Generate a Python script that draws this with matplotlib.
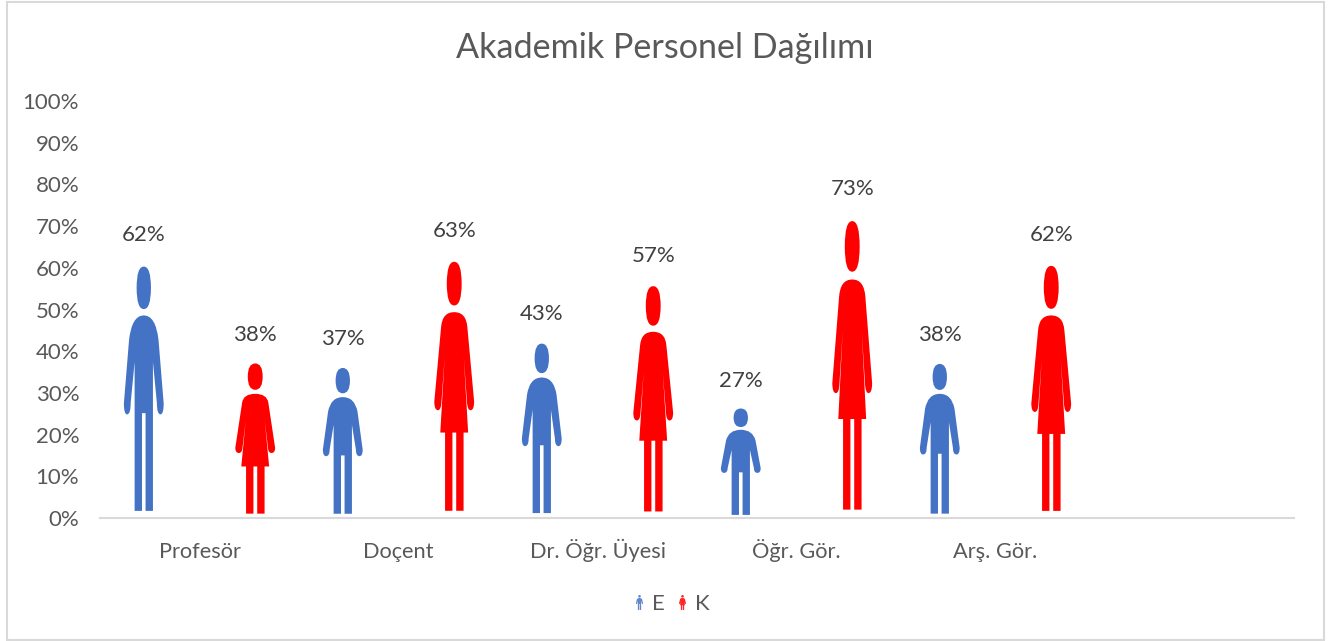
#!/usr/bin/env python3
import matplotlib
matplotlib.use("Agg")
import matplotlib.pyplot as plt
from matplotlib.lines import Line2D
from matplotlib.patches import PathPatch, Rectangle
from matplotlib.path import Path
from matplotlib.ticker import FuncFormatter, MultipleLocator

plt.rcParams["font.family"] = ["Lato", "DejaVu Sans"]

categories = ["Profesör", "Doçent", "Dr. Öğr. Üyesi", "Öğr. Gör.", "Arş. Gör."]
e_values = [0.62, 0.37, 0.43, 0.27, 0.38]
k_values = [0.38, 0.63, 0.57, 0.73, 0.62]
series_names = ["E", "K"]
series_colors = ["#4472c4", "#ff0000"]

TICK_COLOR = "#595959"
LABEL_COLOR = "#404040"
LINE_COLOR = "#d9d9d9"

M, L, C, Z = Path.MOVETO, Path.LINETO, Path.CURVE3, Path.CLOSEPOLY


def head_segments(rx, cy, ry):
    pts = [(0, cy + ry), (rx, cy + ry), (rx, cy), (rx, cy - ry), (0, cy - ry),
           (-rx, cy - ry), (-rx, cy), (-rx, cy + ry), (0, cy + ry), (0, cy + ry)]
    codes = [M, C, C, C, C, C, C, C, C, Z]
    return pts, codes


# silhouettes in unit box: u -0.5..0.5 across, v 0..1 from feet to top of head
def man_path():
    head_p, head_c = head_segments(0.18, 0.913, 0.087)
    body = [
        (M, (0, 0.80)), (C, (0.30, 0.80)), (C, (0.37, 0.70)),
        (L, (0.50, 0.44)), (C, (0.50, 0.395)), (C, (0.42, 0.395)), (C, (0.33, 0.395)), (C, (0.33, 0.44)),
        (L, (0.23, 0.61)), (L, (0.23, 0.0)), (L, (0.045, 0.0)), (L, (0.045, 0.40)),
        (L, (-0.045, 0.40)), (L, (-0.045, 0.0)), (L, (-0.23, 0.0)), (L, (-0.23, 0.61)),
        (L, (-0.33, 0.44)), (C, (-0.33, 0.395)), (C, (-0.42, 0.395)), (C, (-0.50, 0.395)), (C, (-0.50, 0.44)),
        (L, (-0.37, 0.70)), (C, (-0.30, 0.80)), (C, (0, 0.80)), (Z, (0, 0.80)),
    ]
    return Path(head_p + [p for _, p in body], head_c + [c for c, _ in body])


def woman_path():
    head_p, head_c = head_segments(0.187, 0.915, 0.088)
    body = [
        (M, (0, 0.80)), (C, (0.30, 0.80)), (C, (0.33, 0.74)),
        (L, (0.50, 0.44)), (C, (0.50, 0.405)), (C, (0.41, 0.405)), (C, (0.33, 0.405)), (C, (0.32, 0.44)),
        (L, (0.24, 0.62)), (L, (0.35, 0.315)), (L, (0.235, 0.315)), (L, (0.235, 0.0)),
        (L, (0.05, 0.0)), (L, (0.05, 0.315)), (L, (-0.045, 0.315)), (L, (-0.045, 0.0)),
        (L, (-0.23, 0.0)), (L, (-0.23, 0.315)), (L, (-0.35, 0.315)), (L, (-0.24, 0.62)),
        (L, (-0.32, 0.44)), (C, (-0.33, 0.405)), (C, (-0.41, 0.405)), (C, (-0.50, 0.405)), (C, (-0.50, 0.44)),
        (L, (-0.33, 0.74)), (C, (-0.30, 0.80)), (C, (0, 0.80)), (Z, (0, 0.80)),
    ]
    return Path(head_p + [p for _, p in body], head_c + [c for c, _ in body])


def place(shape, x, value, width, fill):
    # picture is stretched to the value and centred inside the invisible bar
    h = value * fill
    base = (value - h) / 2
    verts = [(x + u * width, base + v * h) for u, v in shape.vertices]
    return PathPatch(Path(verts, shape.codes), lw=0, clip_on=False)


def main():
    fig = plt.figure(figsize=(13.3, 6.41), dpi=100)
    ax = fig.add_axes([100 / 1330, 1 - 518 / 641, 1194 / 1330, 417 / 641])

    shapes = [man_path(), woman_path()]
    offsets = [-0.28, 0.28]
    for shape, values, offset, color in zip(shapes, [e_values, k_values], offsets, series_colors):
        for i, value in enumerate(values):
            x = i + 0.5 + offset
            patch = place(shape, x, value, 0.2, 0.945)
            patch.set_facecolor(color)
            ax.add_patch(patch)
            ax.annotate(f"{value:.0%}", (x, value), xytext=(0, 17.5), textcoords="offset points",
                        ha="center", va="center", fontsize=16, color=LABEL_COLOR)

    ax.set_xlim(0, 6)
    ax.set_ylim(0, 1)
    ax.yaxis.set_major_locator(MultipleLocator(0.1))
    ax.yaxis.set_major_formatter(FuncFormatter(lambda v, _: f"{v:.0%}"))
    ax.set_xticks([i + 0.5 for i in range(len(categories))])
    ax.set_xticklabels(categories)
    ax.tick_params(length=0, labelsize=16, labelcolor=TICK_COLOR)
    ax.tick_params(axis="x", labelsize=15.7, pad=29)
    ax.tick_params(axis="y", pad=15)
    for label in ax.get_xticklabels():
        label.set_verticalalignment("baseline")
    for side in ("top", "left", "right"):
        ax.spines[side].set_visible(False)
    ax.spines["bottom"].set_color(LINE_COLOR)
    ax.spines["bottom"].set_linewidth(1.5)

    fig.text(664.5 / 1330, 1 - 48.5 / 641, "Akademik Personel Dağılımı", ha="center", va="center",
             fontsize=24.6, color=TICK_COLOR)

    handles = []
    for shape, color in zip(shapes, series_colors):
        # legend glyph is narrower than the chart one; centre it on the marker origin
        tall = Path([(u, (v - 0.5) * 2.1) for u, v in shape.vertices], shape.codes)
        handles.append(Line2D([], [], linestyle="none", marker=tall, markersize=10.8,
                              markerfacecolor=color, markeredgewidth=0, alpha=0.85))
    fig.legend(handles, series_names, loc="center", bbox_to_anchor=(667.5 / 1330, 1 - 604 / 641),
               ncols=2, frameon=False, fontsize=16, labelcolor=TICK_COLOR,
               handletextpad=0.0, columnspacing=0.17, handlelength=1.2)

    fig.add_artist(Rectangle((6.5 / 1330, 1 - 640 / 641), 1317 / 1330, 638.5 / 641,
                             transform=fig.transFigure, fill=False,
                             edgecolor=LINE_COLOR, linewidth=1.5))

    fig.savefig("out.png", dpi=100)
    plt.close(fig)


if __name__ == "__main__":
    main()
